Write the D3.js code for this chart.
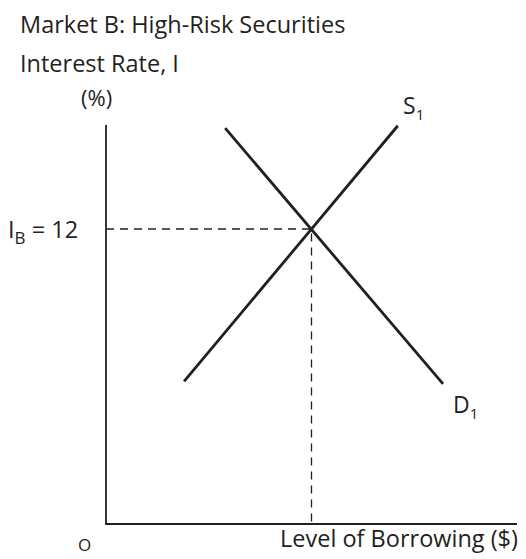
<!DOCTYPE html>
<html lang="en">
<head>
    <meta charset="UTF-8">
    <title>Market B: High-Risk Securities</title>
    <script src="https://d3js.org/d3.v7.min.js"></script>
    <style>
        body { margin: 0; background: #fff; }
        text { font-family: "Open Sans", "Noto Sans", sans-serif; fill: #231f20; }
    </style>
</head>
<body>
    <div id="chart-container"></div>
    <script>
        // supply and demand lines (quantity as % of axis, interest rate %)
        const supplyQ = [19, 71];
        const supplyI = [5.8, 16.2];
        const demandQ = [29, 82];
        const demandI = [16.1, 5.7];
        const eqQ = 50;
        const eqI = 12;

        const width = 526;
        const height = 559;

        const x = d3.scaleLinear().domain([0, 100]).range([106, 517]);
        const y = d3.scaleLinear().domain([0, 16.23]).range([524, 125]);

        const svg = d3.select("#chart-container")
            .append("svg")
            .attr("width", width)
            .attr("height", height);

        const ink = "#231f20";

        // axes
        svg.append("path")
            .attr("d", d3.line()([[x(0), y(16.23)], [x(0), y(0)], [x(100), y(0)]]))
            .attr("fill", "none")
            .attr("stroke", ink)
            .attr("stroke-width", 1.8);

        // dashed guides to equilibrium
        svg.append("path")
            .attr("d", d3.line()([[x(0), y(eqI)], [x(eqQ), y(eqI)], [x(eqQ), y(0)]]))
            .attr("fill", "none")
            .attr("stroke", ink)
            .attr("stroke-width", 1.3)
            .attr("stroke-dasharray", "8,6");

        const line = d3.line().x(d => x(d[0])).y(d => y(d[1]));

        svg.append("path")
            .attr("d", line(d3.zip(supplyQ, supplyI)))
            .attr("stroke", ink)
            .attr("stroke-width", 2.8)
            .attr("fill", "none");

        svg.append("path")
            .attr("d", line(d3.zip(demandQ, demandI)))
            .attr("stroke", ink)
            .attr("stroke-width", 2.8)
            .attr("fill", "none");

        // labels
        svg.append("text")
            .attr("x", 20).attr("y", 33)
            .style("font-size", "23.5px")
            .text("Market B: High-Risk Securities");

        svg.append("text")
            .attr("x", 20).attr("y", 72)
            .style("font-size", "23.5px")
            .text("Interest Rate, I");

        svg.append("text")
            .attr("x", 81).attr("y", 106)
            .style("font-size", "22px")
            .text("(%)");

        const ib = svg.append("text")
            .attr("x", 8).attr("y", 238)
            .style("font-size", "23.5px");
        ib.append("tspan").text("I");
        ib.append("tspan").attr("dy", 6).style("font-size", "17px").text("B");
        ib.append("tspan").attr("dy", -6).text(" = 12");

        const s1 = svg.append("text")
            .attr("x", 403).attr("y", 114)
            .style("font-size", "23px");
        s1.append("tspan").text("S");
        s1.append("tspan").attr("dy", 6).style("font-size", "15px").text("1");

        const d1 = svg.append("text")
            .attr("x", 453).attr("y", 413)
            .style("font-size", "23px");
        d1.append("tspan").text("D");
        d1.append("tspan").attr("dy", 6).style("font-size", "15px").text("1");

        svg.append("text")
            .attr("x", 78).attr("y", 551)
            .style("font-size", "17px")
            .text("O");

        svg.append("text")
            .attr("x", 518).attr("y", 547)
            .attr("text-anchor", "end")
            .style("font-size", "23.5px")
            .text("Level of Borrowing ($)");
    </script>
</body>
</html>
